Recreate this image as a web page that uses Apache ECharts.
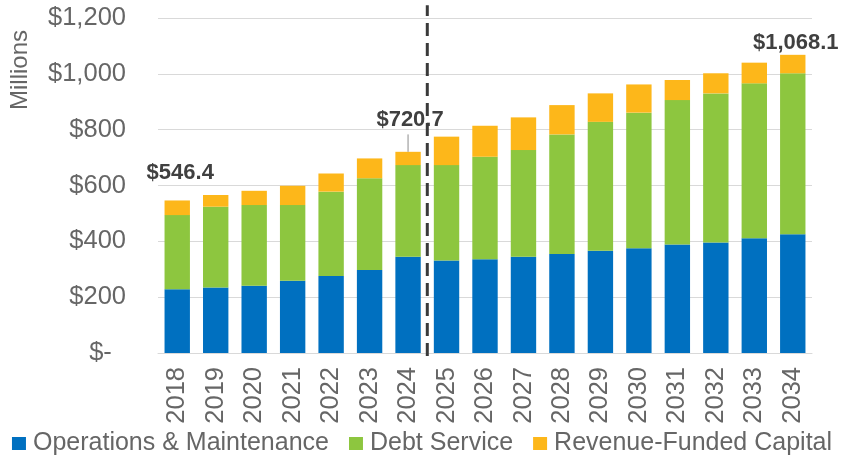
<!DOCTYPE html>
<html>
<head>
    <meta charset="utf-8">
    <title>Revenue Requirements</title>
    <script src="https://cdn.jsdelivr.net/npm/echarts@6/dist/echarts.min.js"></script>
    <style>
        html, body { margin: 0; padding: 0; background: #fff; }
        #main { width: 844px; height: 457px; }
    </style>
</head>
<body>
<div id="main"></div>
<script type="text/javascript">
    // data ($ millions)
    var years = ['2018', '2019', '2020', '2021', '2022', '2023', '2024', '2025', '2026',
        '2027', '2028', '2029', '2030', '2031', '2032', '2033', '2034'];
    var operations = [228, 235, 241, 259, 276, 297, 345, 331, 336, 345, 355, 366, 375, 389, 396, 411, 425];
    var debtService = [266, 289, 289, 271, 302, 329, 328, 342, 367, 382, 428, 462, 486, 517, 534, 555, 577];
    var revenueCapital = [52.4, 42, 51, 69, 65, 71, 47.7, 102, 111, 117, 105, 102, 101, 72, 72, 74, 66.1];
    var labelled = [0, 6, 16];
    var yTicks = [0, 200, 400, 600, 800, 1000, 1200];

    // divider between actual and projected years (helper x axis: category i spans [i, i+1])
    var dividerLine = [[7, -11], [7, 1246]];
    var leaderLine = [[6.5, 720.7], [6.5, 783]];

    var FONT = "'Liberation Sans', Arial, sans-serif";
    var GREY = '#666666';

    function money(v) {
        return '$' + v.toLocaleString('en-US', {minimumFractionDigits: 1, maximumFractionDigits: 1});
    }

    var totals = years.map(function (y, i) {
        return Math.round((operations[i] + debtService[i] + revenueCapital[i]) * 10) / 10;
    });

    var labelOffsets = {0: [3, -12], 6: [2, -16], 16: [3, 4]};
    var topData = revenueCapital.map(function (v, i) {
        if (labelled.indexOf(i) < 0) return v;
        return {
            value: v,
            label: {
                show: true,
                position: 'top',
                offset: labelOffsets[i],
                formatter: function () { return money(totals[i]); },
                fontFamily: FONT,
                fontWeight: 'bold',
                fontSize: 22,
                color: '#404040'
            }
        };
    });

    var myChart = echarts.init(document.getElementById('main'), null, {renderer: 'canvas'});

    var option = {
        animation: false,
        textStyle: {fontFamily: FONT},
        grid: {left: 158, right: 32, top: 18, bottom: 104},
        legend: {
            top: 426,
            left: 'center',
            padding: [5, 0, 5, 14],
            itemWidth: 14,
            itemHeight: 13,
            itemGap: 20,
            icon: 'rect',
            textStyle: {fontFamily: FONT, fontSize: 25, color: GREY, padding: [0, 0, 0, 2]},
            data: ['Operations & Maintenance', 'Debt Service', 'Revenue-Funded Capital']
        },
        graphic: [{
            type: 'text',
            left: 8,
            top: 30,
            rotation: Math.PI / 2,
            style: {text: 'Millions', font: '24px ' + FONT, fill: GREY}
        }],
        xAxis: [{
            type: 'category',
            data: years,
            axisLine: {lineStyle: {color: '#d9d9d9'}},
            axisTick: {show: false},
            axisLabel: {rotate: 90, fontSize: 25.5, color: GREY, margin: 14, fontFamily: FONT}
        }, {
            type: 'value',
            min: 0,
            max: years.length,
            show: false
        }],
        yAxis: {
            type: 'value',
            min: yTicks[0],
            max: yTicks[yTicks.length - 1],
            interval: 200,
            axisLine: {show: false},
            axisTick: {show: false},
            splitLine: {lineStyle: {color: '#d9d9d9', width: 1}},
            axisLabel: {
                fontSize: 25.5,
                color: GREY,
                margin: 32,
                fontFamily: FONT,
                formatter: function (v) {
                    return v === 0 ? '$-  ' : '$' + v.toLocaleString('en-US');
                }
            }
        },
        series: [
            {
                name: 'Operations & Maintenance',
                type: 'bar',
                stack: 'total',
                barWidth: '66%',
                itemStyle: {color: '#0070C0'},
                data: operations
            },
            {
                name: 'Debt Service',
                type: 'bar',
                stack: 'total',
                itemStyle: {color: '#8DC63F'},
                data: debtService
            },
            {
                name: 'Revenue-Funded Capital',
                type: 'bar',
                stack: 'total',
                itemStyle: {color: '#FDB71A'},
                data: topData
            },
            {
                name: 'divider',
                type: 'line',
                xAxisIndex: 1,
                clip: false,
                symbol: 'none',
                silent: true,
                lineStyle: {color: '#3a3a3a', width: 3, type: [13, 7]},
                data: dividerLine
            },
            {
                name: 'leader',
                type: 'line',
                xAxisIndex: 1,
                clip: false,
                symbol: 'none',
                silent: true,
                lineStyle: {color: '#8c8c8c', width: 1},
                data: leaderLine
            }
        ]
    };

    myChart.setOption(option);
    window.addEventListener('resize', myChart.resize);
</script>
</body>
</html>
